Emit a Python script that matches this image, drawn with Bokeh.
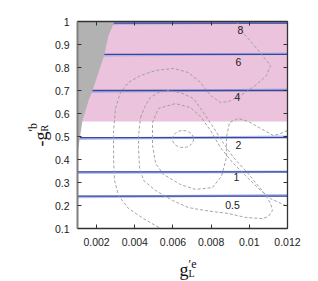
import math
from bokeh.plotting import figure
from bokeh.models import Range1d, FixedTicker, LinearAxis, Label, CustomJSTickFormatter
from bokeh.embed import file_html
from bokeh.resources import INLINE
from bokeh.core.properties import value

# ---------------- data ----------------
x_min, x_max = 0.001, 0.012
y_min, y_max = 0.1, 1.0

x_ticks = [0.002, 0.004, 0.006, 0.008, 0.010, 0.012]
x_tick_labels = ["0.002", "0.004", "0.006", "0.008", "0.01", "0.012"]
y_ticks = [0.1, 0.2, 0.3, 0.4, 0.5, 0.6, 0.7, 0.8, 0.9, 1.0]
y_tick_labels = ["0.1", "0.2", "0.3", "0.4", "0.5", "0.6", "0.7", "0.8", "0.9", "1"]

levels = ["8", "6", "4", "2", "1", "0.5"]
level_y = [0.993, 0.857, 0.700, 0.495, 0.346, 0.241]
blue_y_left = [0.990, 0.852, 0.695, 0.490, 0.342, 0.237]
blue_y_right = [0.996, 0.860, 0.703, 0.499, 0.347, 0.245]
label_x = [0.00954, 0.00943, 0.00938, 0.00943, 0.00933, 0.00912]
label_y = [0.961, 0.826, 0.670, 0.461, 0.322, 0.204]

pink_y_low = 0.565

excluded_x = [0.00100, 0.00294, 0.00262, 0.00241, 0.00210, 0.00179, 0.00158, 0.00126, 0.00116, 0.00105, 0.00100]
excluded_y = [1.000, 1.000, 0.939, 0.857, 0.778, 0.700, 0.657, 0.570, 0.513, 0.452, 0.439]

c_outer_x = [0.00933, 0.00970, 0.01017, 0.01069, 0.01111, 0.01090, 0.01032, 0.00954, 0.00891, 0.00849,
             0.00797, 0.00744, 0.00681, 0.00603, 0.00509, 0.00430, 0.00367, 0.00325, 0.00299, 0.00289,
             0.00289, 0.00294, 0.00315, 0.00367, 0.00446, 0.00535]
c_outer_y = [1.000, 0.948, 0.904, 0.852, 0.809, 0.765, 0.722, 0.678, 0.652, 0.648,
             0.678, 0.735, 0.778, 0.796, 0.787, 0.765, 0.735, 0.691, 0.622, 0.526,
             0.396, 0.309, 0.243, 0.187, 0.143, 0.100]

c_loop_x = [0.00430, 0.00456, 0.00482, 0.00524, 0.00571, 0.00640, 0.00708, 0.00760, 0.00812, 0.00865,
            0.00917, 0.00980, 0.01032, 0.01080, 0.01111, 0.01121, 0.01100, 0.01069, 0.00980, 0.00891,
            0.00770, 0.00681, 0.00598, 0.00509, 0.00446, 0.00425, 0.00420, 0.00420, 0.00430]
c_loop_y = [0.583, 0.635, 0.670, 0.691, 0.700, 0.691, 0.665, 0.604, 0.539, 0.470,
            0.409, 0.352, 0.300, 0.252, 0.209, 0.178, 0.152, 0.143, 0.148, 0.165,
            0.178, 0.191, 0.222, 0.265, 0.309, 0.365, 0.439, 0.504, 0.583]

c_inner_x = [0.01200, 0.01163, 0.01127, 0.01059, 0.00996, 0.00943, 0.00896, 0.00880, 0.00880, 0.00854,
             0.00807, 0.00718, 0.00640, 0.00550, 0.00509, 0.00493, 0.00493, 0.00524, 0.00613, 0.00692,
             0.00744, 0.00797, 0.00849, 0.00912, 0.00980, 0.01048, 0.01111, 0.01200]
c_inner_y = [0.526, 0.513, 0.504, 0.535, 0.565, 0.578, 0.561, 0.496, 0.409, 0.326,
             0.278, 0.270, 0.291, 0.335, 0.383, 0.461, 0.561, 0.622, 0.643, 0.626,
             0.587, 0.526, 0.452, 0.387, 0.330, 0.274, 0.230, 0.196]

oval_x = [0.00653]
oval_y = [0.489]
oval_w = [0.0011]
oval_h = [0.074]

# ---------------- layout (pixels) ----------------
CW, CH = 316, 280            # canvas = frame
PL, PR, PT, PB = 77, 287, 21, 228   # where the data box sits

sx = (x_max - x_min) / (PR - PL)
sy = (y_max - y_min) / (PB - PT)
def X(px):
    return x_min + (px - PL) * sx
def Y(py):
    return y_max - (py - PT) * sy

p = figure(frame_width=CW, frame_height=CH, output_backend="svg", toolbar_location=None,
           x_range=Range1d(X(0), X(CW)), y_range=Range1d(Y(CH), Y(0)),
           x_axis_location=None, y_axis_location=None,
           min_border_left=0, min_border_right=0, min_border_top=0, min_border_bottom=0)
p.background_fill_color = "white"
p.border_fill_color = "white"
p.outline_line_color = None
p.grid.visible = False

TICK_FONT = "Liberation Sans"

fmt_code = """
for (let i = 0; i < tv.length; i++) {
  if (Math.abs(tv[i] - tick) < 1e-9) { return tl[i]; }
}
return '';
"""

def make_axis(loc, ticks, labels, fixed, bounds, color="#333333", width=1.3, show_labels=True, standoff=8):
    if show_labels:
        fmt = CustomJSTickFormatter(args=dict(tv=ticks, tl=labels), code=fmt_code)
    else:
        fmt = CustomJSTickFormatter(code="return '';")
    ax = LinearAxis(ticker=FixedTicker(ticks=ticks), formatter=fmt,
                    fixed_location=fixed, bounds=bounds)
    ax.major_tick_in = 4
    ax.major_tick_out = 0
    ax.minor_tick_in = 0
    ax.minor_tick_out = 0
    ax.major_tick_line_color = "#333333"
    ax.major_tick_line_width = 1
    ax.axis_line_color = color
    ax.axis_line_width = width
    ax.major_label_text_font = TICK_FONT
    ax.major_label_text_font_size = "10.5px"
    ax.major_label_text_color = "#222222"
    ax.major_label_standoff = standoff
    p.add_layout(ax, loc)
    return ax

# pink allowed region
p.quad(left=[x_min], right=[x_max], bottom=[pink_y_low], top=[y_max],
       fill_color="#ebc3dc", line_color=None)

# light blue companion lines
n = len(level_y)
p.segment(x0=[x_min] * n, x1=[x_max] * n, y0=blue_y_left, y1=blue_y_right,
          line_color="#9aa6e6", line_width=2.5, line_alpha=0.75)
# navy level lines
p.segment(x0=[x_min] * n, x1=[x_max] * n, y0=level_y, y1=level_y,
          line_color="#3a46a0", line_width=1.3)

# grey excluded region
p.patch(excluded_x, excluded_y, fill_color="#b2b2b2", line_color=None)

# dashed contours
for cx, cy in [(c_outer_x, c_outer_y), (c_loop_x, c_loop_y), (c_inner_x, c_inner_y)]:
    p.line(cx, cy, line_color="#9a9a9a", line_width=0.9, line_dash="3 2")
p.ellipse(x=oval_x, y=oval_y, width=oval_w, height=oval_h, fill_color=None,
          line_color="#9a9a9a", line_width=0.9, line_dash="3 2")

# level labels
p.text(x=label_x, y=label_y, text=levels, text_align="center", text_baseline="middle",
       text_font=value(TICK_FONT), text_font_size="10.5px", text_color="#222222")

# axes (library axes pinned to the data box)
make_axis("below", x_ticks, x_tick_labels, y_min, (x_min, x_max), standoff=9)
make_axis("left", y_ticks, y_tick_labels, x_min, (y_min, y_max), color="#808080", width=2, standoff=8)
make_axis("above", x_ticks, x_tick_labels, y_max, (x_min, x_max), show_labels=False)
make_axis("right", y_ticks, y_tick_labels, x_max, (y_min, y_max), show_labels=False)

# axis titles (composed)
SERIF = "Liberation Serif"
def title_part(text, px, py, size, angle=0.0, align="left"):
    p.add_layout(Label(x=X(px), y=Y(py), text=text, text_font=SERIF, text_font_size=size,
                       angle=angle, text_align=align, text_baseline="alphabetic",
                       text_color="#111111"))

title_part("g", 179, 269, "18px")
title_part("′e", 188, 263, "12px")
title_part("L", 188, 273, "10px")

title_part("-g", 40, 146, "18px", angle=math.pi / 2)
title_part("′b", 32, 131, "12px", angle=math.pi / 2)
title_part("R", 44, 131, "10px", angle=math.pi / 2)

open("out.html", "w").write(file_html(p, INLINE))
